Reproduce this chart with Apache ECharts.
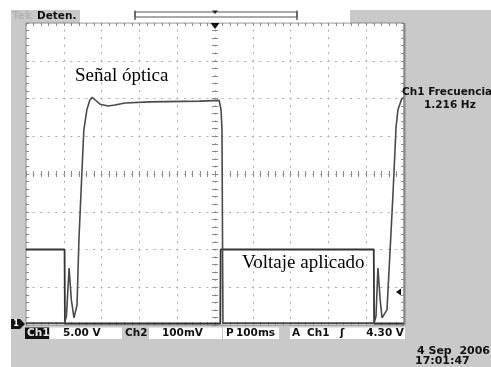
<!DOCTYPE html>
<html>
<head>
<meta charset="utf-8">
<script src="https://cdn.jsdelivr.net/npm/echarts@6/dist/echarts.min.js"></script>
<style>
html, body { margin: 0; padding: 0; background: #fff; }
#chart { width: 491px; height: 367px; }
</style>
</head>
<body>
<div id="chart"></div>
<script>
// tiempo en ms respecto al disparo (centro de la pantalla), 100 ms/div
var ch1Time = [-500, -398, -397, 14, 15, 420, 421, 500];
// Ch1 en voltios, 5 V/div, tierra abajo
var ch1Volt = [10, 10, 0.2, 0.2, 10, 10, 0.2, 0.2];

// Ch2 (señal óptica) en mV, 100 mV/div
var ch2Time = [-500, -398, -393, -386, -380, -373, -365, -360, -353, -347, -339, -331, -325, -317, -304, -283, -265, -238, -172, -40, 11, 16, 18.5, 21,
    421, 426, 431, 437, 442, 455, 466, 471, 479, 484, 494, 500];
var ch2mV = [5, 5, 24, 151, 66, 19, 53, 225, 384, 517, 570, 596, 603, 596, 585, 580, 583, 588, 591, 593, 595, 570, 517, 5,
    5, 24, 151, 66, 19, 40, 252, 350, 525, 570, 599, 603];

var gridColor = '#ababab';
var tickColor = '#8a8a8a';
var boldFont = 'bold 10.5px "DejaVu Sans"';

function zip(a, b) {
    var out = [];
    for (var i = 0; i < a.length; i++) out.push([a[i], b[i]]);
    return out;
}

// ejes del reticulado: bordes y cruz central con marcas
function xAxisOf(pos, offset, inside, split) {
    return {
        type: 'value', min: -500, max: 500, interval: 100,
        position: pos, offset: offset,
        axisLine: { show: false, onZero: false },
        axisLabel: { show: false },
        axisTick: { show: true, inside: inside, length: 3, lineStyle: { color: tickColor } },
        minorTick: { show: true, splitNumber: 5, length: 3, lineStyle: { color: tickColor } },
        splitLine: { show: split, lineStyle: { color: gridColor, width: 1, type: [2, 5.56], dashOffset: 1 } }
    };
}

function yAxisOf(pos, offset, inside, split) {
    return {
        type: 'value', min: 0, max: 40, interval: 5,
        position: pos, offset: offset,
        axisLine: { show: false, onZero: false },
        axisLabel: { show: false },
        axisTick: { show: true, inside: inside, length: 3, lineStyle: { color: tickColor } },
        minorTick: { show: true, splitNumber: 5, length: 3, lineStyle: { color: tickColor } },
        splitLine: { show: split, lineStyle: { color: gridColor, width: 1, type: [2, 5.56], dashOffset: 1 } }
    };
}

function txt(s, x, y, font, color, align) {
    return {
        type: 'text', z: 100,
        style: { text: s, x: x, y: y, font: font, fill: color || '#111', textAlign: align || 'left', textVerticalAlign: 'middle' }
    };
}

function box(x, y, w, h, fill) {
    return { type: 'rect', z: 50, shape: { x: x, y: y, width: w, height: h }, style: { fill: fill } };
}

var chart = echarts.init(document.getElementById('chart'));

chart.setOption({
    animation: false,
    backgroundColor: '#c9c9c9',
    grid: {
        left: 26, top: 23, width: 378, height: 302,
        show: true, backgroundColor: '#fff', borderColor: '#8c8c8c', borderWidth: 1
    },
    xAxis: [
        xAxisOf('bottom', 0, true, true),
        xAxisOf('top', 0, true, false),
        xAxisOf('bottom', -151, true, false),
        xAxisOf('bottom', -151, false, false)
    ],
    yAxis: [
        yAxisOf('left', 0, true, true),
        yAxisOf('right', 0, true, false),
        yAxisOf('left', -189, true, false),
        yAxisOf('left', -189, false, false),
        { type: 'value', min: 0, max: 800, show: false }
    ],
    series: [
        {
            type: 'line', name: 'Ch1', xAxisIndex: 0, yAxisIndex: 0,
            data: zip(ch1Time, ch1Volt),
            showSymbol: false, z: 10,
            lineStyle: { color: '#333', width: 1.8 }
        },
        {
            type: 'line', name: 'Ch2', xAxisIndex: 0, yAxisIndex: 4,
            data: zip(ch2Time, ch2mV),
            showSymbol: false, z: 11,
            lineStyle: { color: '#4a4a4a', width: 1.6 }
        }
    ],
    graphic: [
        // márgenes blancos de la captura
        box(0, 0, 491, 10, '#fff'),
        box(0, 0, 11, 367, '#fff'),
        // borde derecho más grueso
        { type: 'line', z: 40, shape: { x1: 404.5, y1: 23, x2: 404.5, y2: 325 }, style: { stroke: '#888', lineWidth: 2 } },
        // barra superior
        box(80, 10, 270, 12.5, '#fff'),
        { type: 'rect', z: 60, shape: { x: 135, y: 12, width: 162, height: 5 }, style: { fill: '#fff', stroke: '#555', lineWidth: 1 } },
        { type: 'line', z: 60, shape: { x1: 135, y1: 10.5, x2: 135, y2: 20 }, style: { stroke: '#555', lineWidth: 1.5 } },
        { type: 'line', z: 60, shape: { x1: 297, y1: 10.5, x2: 297, y2: 20 }, style: { stroke: '#555', lineWidth: 1.5 } },
        { type: 'polygon', z: 60, shape: { points: [[212, 10.5], [218, 10.5], [215, 14]] }, style: { fill: '#222' } },
        txt('Tek', 12, 16, boldFont, '#b3b3b3'),
        txt('Deten.', 37, 16, boldFont, '#111'),
        // marcadores del reticulado
        { type: 'polygon', z: 100, shape: { points: [[210.5, 23], [219.5, 23], [215, 29]] }, style: { fill: '#111' } },
        { type: 'polygon', z: 100, shape: { points: [[396, 292], [401, 288.5], [401, 295.5]] }, style: { fill: '#111' } },
        { type: 'polygon', z: 100, shape: { points: [[11, 319], [20, 319], [25, 324], [20, 329], [11, 329]] }, style: { fill: '#111' } },
        txt('1', 16, 324, 'bold 8px "DejaVu Sans"', '#fff', 'center'),
        // lecturas inferiores
        box(25, 327.5, 24, 11.5, '#111'),
        txt('Ch1', 27, 333, boldFont, '#e6e6e6'),
        box(50, 327.5, 72, 11.5, '#fff'),
        txt('5.00 V', 63, 333, boldFont),
        txt('Ch2', 125, 333, boldFont),
        box(149, 327.5, 73, 11.5, '#fff'),
        txt('100mV', 162, 333, boldFont),
        box(223, 327.5, 56, 11.5, '#fff'),
        txt('P', 226, 333, boldFont),
        txt('100ms', 236, 333, boldFont),
        box(290, 327.5, 115, 11.5, '#fff'),
        txt('A', 292, 333, boldFont),
        txt('Ch1', 307, 333, boldFont),
        txt('\u0283', 340, 333, boldFont),
        txt('4.30 V', 404, 333, boldFont, '#111', 'right'),
        // medida y fecha
        txt('Ch1 Frecuencia', 402, 92.5, boldFont),
        txt('1.216 Hz', 424, 105, boldFont),
        txt('4 Sep  2006', 490, 351, 'bold 11px "DejaVu Sans"', '#111', 'right'),
        txt('17:01:47', 415, 361, 'bold 11px "DejaVu Sans"'),
        // rótulos
        txt('Señal óptica', 75, 76, '19px "Liberation Serif"', '#000'),
        txt('Voltaje aplicado', 242, 263.5, '19px "Liberation Serif"', '#000')
    ]
});
</script>
</body>
</html>
